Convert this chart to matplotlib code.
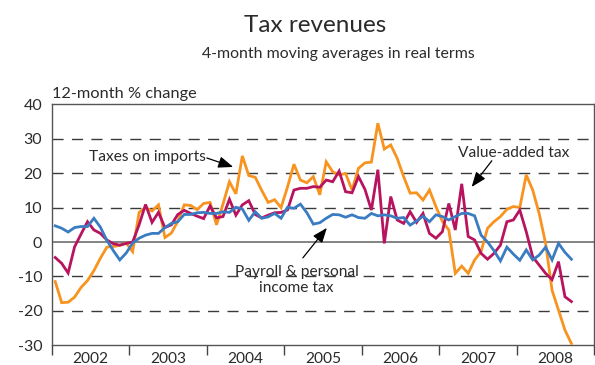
import numpy as np
import matplotlib
matplotlib.use("Agg")
import matplotlib.pyplot as plt

plt.rcParams["font.family"] = ["Lato", "DejaVu Sans"]
plt.rcParams["axes.unicode_minus"] = False

# Monthly observations, January 2002 - September 2008 (12-month % change)
start_year = 2002
years = [2002, 2003, 2004, 2005, 2006, 2007, 2008]

taxes_on_imports = [
    -11.5, -17.6, -17.5, -16.0, -13.2, -11.2, -8.3, -4.7, -1.5, -1.3, -1.0, -0.3,
    -2.8, 8.6, 10.0, 9.0, 10.8, 1.3, 2.6, 6.0, 10.8, 10.6, 9.4, 11.2,
    11.5, 5.0, 11.0, 17.5, 14.0, 25.0, 19.3, 18.8, 15.0, 11.5, 12.3, 10.0,
    16.0, 22.6, 18.0, 17.2, 19.0, 13.7, 23.3, 20.4, 19.5, 19.9, 15.1, 21.4,
    23.0, 23.2, 34.5, 27.0, 28.2, 24.3, 19.0, 14.2, 14.3, 12.2, 15.1, 10.3,
    6.0, 3.5, -9.1, -7.0, -9.1, -5.2, -2.8, 4.0, 5.9, 7.4, 9.5, 10.3,
    10.0, 19.5, 15.1, 8.3, -0.4, -14.0, -19.8, -25.6, -29.5,
]

value_added_tax = [
    -4.5, -6.2, -9.0, -1.4, 2.3, 5.9, 3.5, 2.5, 0.6, -0.5, -0.9, -0.4,
    0.0, 5.0, 10.9, 5.7, 8.6, 4.2, 5.0, 8.0, 9.2, 8.3, 7.5, 6.8,
    10.5, 7.0, 7.4, 12.4, 7.8, 10.8, 12.0, 8.0, 7.0, 7.8, 8.5, 8.6,
    9.3, 15.1, 15.6, 15.6, 16.1, 15.9, 18.0, 17.5, 20.6, 14.6, 14.3, 19.0,
    15.3, 9.3, 21.0, -0.4, 13.2, 6.4, 5.4, 8.8, 5.7, 8.3, 2.5, 1.1,
    3.0, 11.2, 3.5, 16.9, 1.6, 0.6, -3.3, -5.0, -3.3, -0.9, 5.9, 6.4,
    9.3, 3.0, -4.3, -6.7, -9.1, -10.9, -5.7, -15.9, -17.3,
]

payroll_income_tax = [
    4.7, 4.0, 2.9, 4.2, 4.5, 4.5, 6.9, 4.3, 0.5, -2.5, -5.2, -3.2,
    -0.3, 1.1, 2.0, 2.5, 2.5, 4.2, 5.4, 5.9, 8.0, 8.0, 8.5, 8.6,
    8.3, 8.3, 8.8, 8.6, 10.1, 9.6, 6.3, 8.8, 6.9, 7.3, 8.3, 6.9,
    10.1, 9.8, 11.0, 8.5, 5.2, 5.6, 6.9, 8.0, 7.9, 7.2, 7.9, 7.1,
    6.9, 8.3, 7.6, 7.9, 7.6, 6.9, 7.1, 4.9, 6.1, 7.5, 5.9, 7.9,
    7.4, 6.4, 7.4, 8.3, 8.3, 7.6, 2.0, 0.0, -2.5, -5.5, -1.5, -3.5,
    -5.3, -2.3, -5.2, -3.8, -1.5, -5.2, -0.4, -3.0, -5.0,
]

ORANGE = "#F7931E"
MAGENTA = "#B8135F"
BLUE = "#3A7CC2"
TEXT = "#2b2b2b"

# Each month is plotted at its mid-point on a continuous year axis
months = np.arange(len(taxes_on_imports))
x = start_year + (months + 0.5) / 12.0

fig = plt.figure(figsize=(5.95, 3.65), dpi=100)
ax = fig.add_axes([52 / 595, 1 - 345.3 / 365, 542 / 595, (345.3 - 104.3) / 365])

# Horizontal reference lines
for level in [-20, -10, 10, 20, 30]:
    ax.axhline(level, color="#3a3a3a", lw=1.0, dashes=(8, 6), zorder=1)
ax.axhline(0, color="#7a7a7a", lw=1.3, zorder=1)

ax.plot(x, taxes_on_imports, color=ORANGE, lw=2.0, zorder=3, solid_joinstyle="miter")
ax.plot(x, value_added_tax, color=MAGENTA, lw=2.0, zorder=4, solid_joinstyle="miter")
ax.plot(x, payroll_income_tax, color=BLUE, lw=2.0, zorder=5, solid_joinstyle="miter")

ax.set_xlim(start_year, years[-1] + 1)
ax.set_ylim(-30, 40)
ax.set_yticks(np.arange(-30, 41, 10))
ax.tick_params(axis="y", length=0, pad=7, labelsize=11.5, labelcolor=TEXT)

# Year boundaries as ticks, year names centred between them
ax.set_xticks(np.arange(start_year, years[-1] + 2))
ax.set_xticklabels([])
ax.set_xticks([y + 0.5 for y in years], minor=True)
ax.set_xticklabels([str(y) for y in years], minor=True)
ax.tick_params(axis="x", which="major", length=7, width=1.0, color="#444444", direction="out")
ax.tick_params(axis="x", which="minor", length=0, pad=5, labelsize=11.2, labelcolor=TEXT)

for side, sp in ax.spines.items():
    sp.set_color("#555555")
    sp.set_linewidth(1.0)

arrow = dict(arrowstyle="-|>,head_length=0.9,head_width=0.35", color="black", lw=0.9,
             shrinkA=0, shrinkB=0)

ax.annotate("", xy=(2004.34, 21.8), xytext=(2004.0, 24.4), arrowprops=arrow, zorder=6)
ax.text(2003.99, 24.6, "Taxes on imports", ha="right", va="center", fontsize=11.2, color=TEXT)

ax.annotate("", xy=(2007.42, 16.0), xytext=(2007.68, 23.6), arrowprops=arrow, zorder=6)
ax.text(2007.96, 25.8, "Value-added tax", ha="center", va="center", fontsize=11.2, color=TEXT)

ax.annotate("", xy=(2005.55, 4.1), xytext=(2005.24, -4.6), arrowprops=arrow, zorder=6)
ax.text(2005.16, -11.0, "Payroll & personal\nincome tax", ha="center", va="center",
        fontsize=11.2, color=TEXT, linespacing=1.25)

fig.text(315 / 595, 1 - 32 / 365, "Tax revenues", ha="center", va="baseline",
         fontsize=17.5, color=TEXT)
fig.text(338.5 / 595, 1 - 58 / 365, "4-month moving averages in real terms", ha="center",
         va="baseline", fontsize=11.4, color=TEXT)
fig.text(52 / 595, 1 - 98 / 365, "12-month % change", ha="left", va="baseline",
         fontsize=11.8, color=TEXT)

fig.savefig("out.png", dpi=100)
